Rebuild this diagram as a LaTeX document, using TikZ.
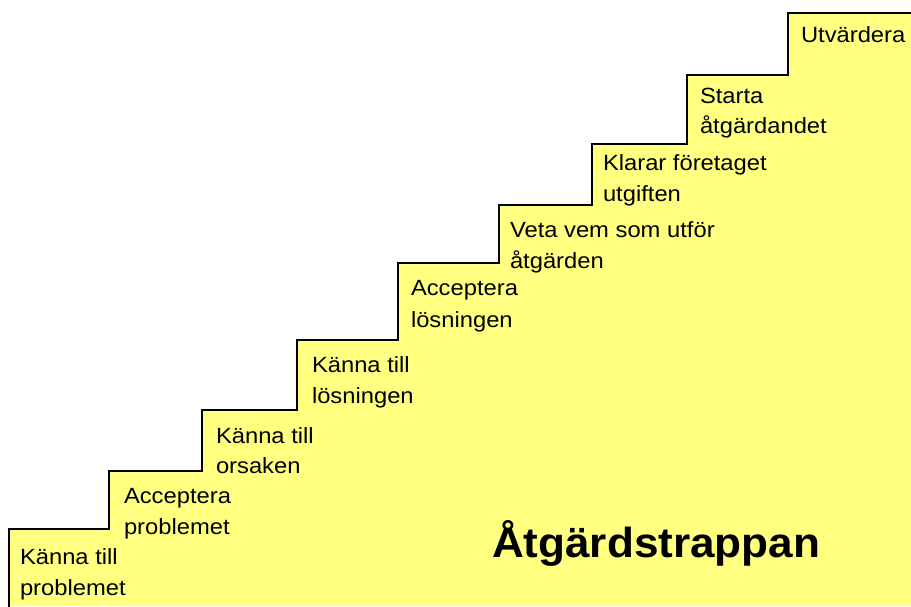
\documentclass[tikz,border=0pt]{standalone}
\usepackage{fontspec}
\setmainfont{Liberation Sans}
\newfontfamily\stepfont[FakeStretch=1.08]{Liberation Sans}
\newfontfamily\titlefont[FakeStretch=1.05]{Liberation Sans}
\definecolor{stairyellow}{RGB}{255,255,128}
\begin{document}
\begin{tikzpicture}[x=1pt,y=-1pt,
  steptext/.style={anchor=base west,inner sep=0pt,outer sep=0pt,font=\stepfont\fontsize{22}{26}\selectfont},
  titletext/.style={anchor=base west,inner sep=0pt,outer sep=0pt,font=\titlefont\bfseries\fontsize{42}{48}\selectfont},
  stairline/.style={draw=black,line width=2pt,line join=miter}]
\useasboundingbox (0,0) rectangle (911,606);
\fill[stairyellow] (9,606) -- (9,529) -- (109,529) -- (109,471) -- (202,471) -- (202,410) -- (297,410) -- (297,340) -- (398,340) -- (398,263) -- (499,263) -- (499,205) -- (592,205) -- (592,144) -- (687,144) -- (687,75) -- (788,75) -- (788,13) -- (911,13) -- (911,606) -- cycle;
\draw[stairline] (9,607) -- (9,529) -- (109,529) -- (109,471) -- (202,471) -- (202,410) -- (297,410) -- (297,340) -- (398,340) -- (398,263) -- (499,263) -- (499,205) -- (592,205) -- (592,144) -- (687,144) -- (687,75) -- (788,75) -- (788,13) -- (912,13);
\node[steptext] (s1a) at (20,564) {Känna till};
\node[steptext] (s1b) at (20,595) {problemet};
\node[steptext] (s2a) at (124,503) {Acceptera};
\node[steptext] (s2b) at (124,534) {problemet};
\node[steptext] (s3a) at (216,443) {Känna till};
\node[steptext] (s3b) at (216,473) {orsaken};
\node[steptext] (s4a) at (312,372) {Känna till};
\node[steptext] (s4b) at (312,403) {lösningen};
\node[steptext] (s5a) at (411,295) {Acceptera};
\node[steptext] (s5b) at (411,327) {lösningen};
\node[steptext] (s6a) at (510,237) {Veta vem som utför};
\node[steptext] (s6b) at (510,268) {åtgärden};
\node[steptext] (s7a) at (603,170) {Klarar företaget};
\node[steptext] (s7b) at (603,201) {utgiften};
\node[steptext] (s8a) at (700,103) {Starta};
\node[steptext] (s8b) at (700,133) {åtgärdandet};
\node[steptext] (s9a) at (801,42) {Utvärdera};
\node[titletext] (title) at (492,557) {Åtgärdstrappan};
\end{tikzpicture}
\end{document}
